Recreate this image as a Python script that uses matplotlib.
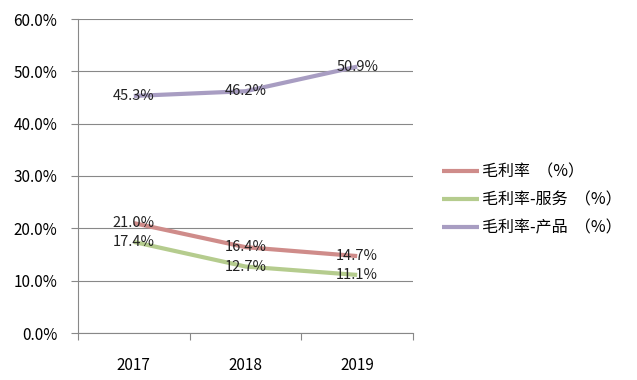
import numpy as np
import matplotlib.pyplot as plt

plt.rcParams['font.family'] = ['Noto Sans CJK SC', 'DejaVu Sans']

years = ['2017', '2018', '2019']
gross = [21.0, 16.4, 14.7]
gross_service = [17.4, 12.7, 11.1]
gross_product = [45.3, 46.2, 50.9]
names = ['毛利率  （%）', '毛利率-服务  （%）', '毛利率-产品  （%）']
colors = ['#CF8C8A', '#B5CC8E', '#A89DC2']
yticks = [0, 10, 20, 30, 40, 50, 60]

fig = plt.figure(figsize=(6.37, 3.8), dpi=100)
ax = fig.add_axes([78 / 637, 1 - 333 / 380, (413 - 78) / 637, (333 - 19) / 380])

x = np.arange(len(years))
for vals, name, c in zip([gross, gross_service, gross_product], names, colors):
    ax.plot(x, vals, color=c, linewidth=3, label=name, solid_capstyle='butt')
    for xi, v in zip(x, vals):
        ax.text(xi, v, '%.1f%%' % v, ha='center', va='center', fontsize=10.5,
                color='#222222', fontweight='light')

ax.set_xlim(-0.5, 2.5)
ax.set_ylim(0, 60)
ax.set_yticks(yticks)
ax.set_yticklabels(['%.1f%%' % t for t in yticks], fontsize=11, fontweight='light')
ax.set_xticks([-0.5, 0.5, 1.5, 2.5])
ax.set_xticklabels([])
ax.set_xticks(x, minor=True)
ax.set_xticklabels(years, minor=True, fontsize=11)
ax.tick_params(axis='x', which='minor', length=0, pad=17)
ax.tick_params(axis='x', which='major', length=5, color='#888888', direction='out')
ax.tick_params(axis='y', length=5, color='#888888', direction='out', pad=10)
ax.grid(axis='y', color='#888888', linewidth=0.8)
ax.set_axisbelow(True)
for s in ['top', 'right']:
    ax.spines[s].set_visible(False)
for s in ['left', 'bottom']:
    ax.spines[s].set_color('#888888')

fig.legend(loc='upper left', bbox_to_anchor=(428 / 637, 1 - 149 / 380), frameon=False,
           handlelength=2.3, labelspacing=0.7, handletextpad=0.2,
           prop={'size': 11.5, 'weight': 'light'})

fig.savefig('out.png', dpi=100)
